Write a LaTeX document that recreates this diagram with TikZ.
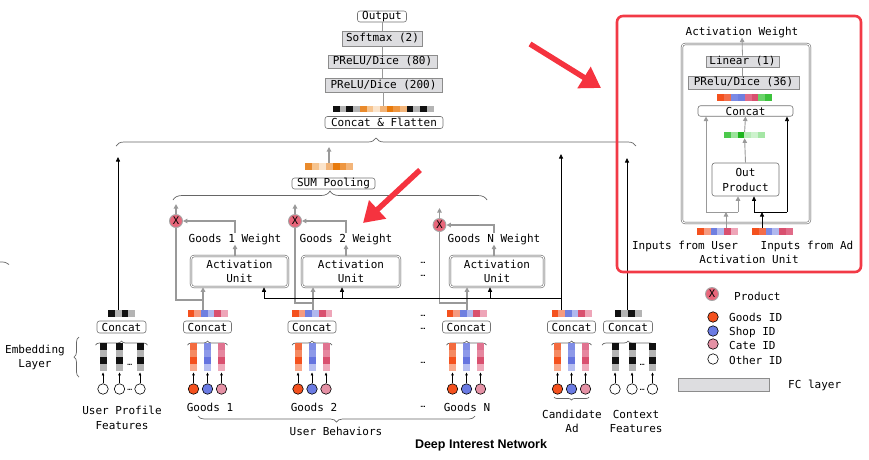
\documentclass[tikz,border=0pt]{standalone}
\usepackage{fontspec}
\setmainfont{DejaVu Sans Mono}
\newfontfamily\headfont{Liberation Sans}
\usetikzlibrary{arrows.meta,decorations.pathreplacing}
\definecolor{c1}{HTML}{F4511E}
\definecolor{c2}{HTML}{F59A80}
\definecolor{c3}{HTML}{6F7FE0}
\definecolor{c4}{HTML}{B0B8EE}
\definecolor{c5}{HTML}{D9506F}
\definecolor{c6}{HTML}{EEA5B8}
\definecolor{c7}{HTML}{F26D4A}
\definecolor{c8}{HTML}{7B8AE5}
\definecolor{c9}{HTML}{E06B88}
\definecolor{cK}{HTML}{111111}
\definecolor{cG}{HTML}{B4B4B4}
\definecolor{oA}{HTML}{E98A2C}
\definecolor{oB}{HTML}{F6C48F}
\definecolor{oC}{HTML}{FBE4CB}
\definecolor{oD}{HTML}{F2B478}
\definecolor{oE}{HTML}{E87A0C}
\definecolor{oF}{HTML}{EE9640}
\definecolor{oG}{HTML}{F3B57A}
\definecolor{gA}{HTML}{4CC94C}
\definecolor{gB}{HTML}{9BE39B}
\definecolor{gC}{HTML}{1DB41D}
\definecolor{gD}{HTML}{B6ECB6}
\definecolor{gE}{HTML}{CDF2CD}
\definecolor{gF}{HTML}{A5E6A5}
\definecolor{gG}{HTML}{6AD36A}
\definecolor{gH}{HTML}{3CC23C}
\definecolor{vOa}{HTML}{F36B3F}
\definecolor{vOb}{HTML}{F58A62}
\definecolor{vOc}{HTML}{F4511E}
\definecolor{vOd}{HTML}{F9A98C}
\definecolor{vBa}{HTML}{7F8DE6}
\definecolor{vBb}{HTML}{8D99E9}
\definecolor{vBc}{HTML}{6574DF}
\definecolor{vBd}{HTML}{B6BEF1}
\definecolor{vPa}{HTML}{E07390}
\definecolor{vPb}{HTML}{E6879F}
\definecolor{vPc}{HTML}{D9506F}
\definecolor{vPd}{HTML}{EFAABB}
\definecolor{idO}{HTML}{F4511E}
\definecolor{idB}{HTML}{6B7BE3}
\definecolor{idP}{HTML}{E591A5}
\definecolor{xred}{HTML}{E8667A}
\definecolor{redbox}{HTML}{F23A46}
\definecolor{redarr}{HTML}{F5333F}
\definecolor{fcfill}{HTML}{DDDDE0}

% colour bar: name, x left, y top, cell width, height, count, colours
\newcommand\cbar[7]{%
  \node[inner sep=0, minimum width={#6*#4}, minimum height=#5, anchor=north west] (#1) at ({#2},{#3}) {};
  \foreach \col [count=\i] in {#7} \fill[\col] ({#2+(\i-1)*#4},{#3}) rectangle ++(#4,#5);
}
% vertical embedding column: x centre, colours
\newcommand\vcol[2]{%
  \foreach \col [count=\i] in {#2} \fill[\col] ({#1-3.5},{343+(\i-1)*7}) rectangle ++(7,7);
}
% goods-like group: name, centre x
\newcommand\goodsgrp[2]{%
  \cbar{#1bar}{#2-20}{310}{6.7}{7}{6}{c1,c2,c3,c4,c5,c6}
  \node[rb, minimum width=48, minimum height=12] (#1cc) at ({#2},327) {Concat};
  \draw[brc=4] ({#2-20},345) -- ({#2+20},345);
  \vcol{#2-14}{vOa,vOb,vOc,vOd}
  \vcol{#2}{vBa,vBb,vBc,vBd}
  \vcol{#2+14}{vPa,vPb,vPc,vPd}
  \node[idc, fill=idO] (#1a) at ({#2-14},389) {};
  \node[idc, fill=idB] (#1b) at ({#2},389) {};
  \node[idc, fill=idP] (#1c) at ({#2+14},389) {};
  \draw[sarr] (#1a.north) -- ++(0,-11);
  \draw[sarr] (#1b.north) -- ++(0,-11);
  \draw[sarr] (#1c.north) -- ++(0,-11);
}
% other-id group: name, centre x, column xs a b c
\newcommand\othergrp[5]{%
  \cbar{#1bar}{#2-13.5}{310}{6.75}{7}{4}{cK,cG,cK,cG}
  \node[rb, minimum width=49, minimum height=12] (#1cc) at ({#2},327) {Concat};
  \draw[brc=4] ({#2-26},345) -- ({#2+26},345);
  \vcol{#3}{cK,cG,cK,cG}
  \vcol{#4}{cK,cG,cK,cG}
  \vcol{#5}{cK,cG,cK,cG}
  \node[idc, fill=white] (#1a) at ({#3},389) {};
  \node[idc, fill=white] (#1b) at ({#4},389) {};
  \node[idc, fill=white] (#1c) at ({#5},389) {};
  \draw[sarr] (#1a.north) -- ++(0,-11);
  \draw[sarr] (#1b.north) -- ++(0,-11);
  \draw[sarr] (#1c.north) -- ++(0,-11);
  \node[font=\fontsize{8}{8}\selectfont] at ({(#4+#5)/2},365) {…};
  \node[font=\fontsize{8}{8}\selectfont] at ({(#4+#5)/2},390) {…};
}

\begin{document}
\begin{tikzpicture}[x=1pt,y=-1pt,
  every node/.style={font=\fontsize{11}{14.5}\selectfont, inner sep=0},
  rb/.style={draw=black!55, fill=white, rounded corners=2.5pt, line width=0.6pt},
  fc/.style={draw=black!45, fill=fcfill, line width=0.6pt},
  au/.style={draw=black!70, double=white, double distance=1.1pt, line width=0.5pt, rounded corners=3pt, align=center},
  xn/.style={circle, fill=xred, draw=black!35, line width=0.9pt, minimum size=13, font=\fontsize{10.5}{10.5}\selectfont},
  idc/.style={circle, draw=black, line width=0.6pt, minimum size=10.5},
  tl/.style={draw=black!40, line width=0.6pt},
  gln/.style={draw=black!40, line width=1.2pt},
  garr/.style={gln, -{Triangle[length=4.5pt,width=4.5pt]}},
  bln/.style={draw=black, line width=0.8pt},
  barr/.style={bln, -{Triangle[length=4.5pt,width=4pt]}},
  sarr/.style={draw=black, line width=0.5pt, -{Triangle[length=3pt,width=2.5pt]}},
  brc/.style={decorate, decoration={brace, amplitude=#1}, draw=black!60, line width=0.7pt},
  redarrow/.style={draw=redarr, line width=5.5pt, -{Triangle[length=20pt,width=24pt]}},
  wt/.style={font=\fontsize{11}{12}\selectfont},
  dots/.style={font=\fontsize{8}{8}\selectfont}
]
\useasboundingbox (0,0) rectangle (869,459);

% ---------- top stack ----------
\node[rb, minimum width=49, minimum height=11] (out) at (382,16.5) {Output};
\node[fc, minimum width=80, minimum height=15] (soft) at (382.5,38.5) {Softmax (2)};
\node[fc, minimum width=109, minimum height=13] (p80) at (382.5,61.5) {PReLU/Dice (80)};
\node[fc, minimum width=117, minimum height=14] (p200) at (383.5,85) {PReLU/Dice (200)};
\cbar{cfbar}{333}{106}{6.7}{6}{15}{cK,cG,cK,cG,oA,oB,oC,oD,oE,oF,oG,cK,cG,cK,cG}
\node[rb, minimum width=118, minimum height=12] (cf) at (384,122.5) {Concat \& Flatten};
\draw[tl] (out.south) -- (out.south |- soft.north);
\draw[tl] (soft.south) -- (soft.south |- p80.north);
\draw[tl] (p80.south) -- (p80.south |- p200.north);
\draw[tl] (p200.south) -- (p200.south |- cfbar.north);

\draw[brc=8] (116,146) -- (636,146);
\draw[black!60, line width=0.7pt] (0,262) .. controls (5,262) .. (9,264.5);

% ---------- SUM pooling ----------
\cbar{sbar}{305}{163}{6.9}{7}{7}{oA,oB,oC,oD,oE,oF,oG}
\coordinate (stop) at (329,147);
\draw[garr] (stop |- sbar.north) -- (stop);
\node[rb, minimum width=83, minimum height=11] (sum) at (333.5,183.5) {SUM Pooling};
\draw[brc=9] (173,200) -- (487,200);

% ---------- activation units ----------
\node[au, minimum width=97, minimum height=31] (au1) at (239.5,271.5) {Activation\\Unit};
\node[au, minimum width=98, minimum height=31] (au2) at (351,271.5) {Activation\\Unit};
\node[au, minimum width=94, minimum height=31] (auN) at (497,271.5) {Activation\\Unit};

\node[wt] (w1) at (235,239) {Goods 1 Weight};
\node[wt] (w2) at (346,239) {Goods 2 Weight};
\node[wt] (wN) at (494,239) {Goods N Weight};

\node[xn] (x1) at (176,221) {X};
\node[xn] (x2) at (295,221) {X};
\node[xn] (xN) at (439.5,225) {X};

\draw[garr] (w1.south |- au1.north) -- (w1.south);
\draw[garr] (w2.south |- au2.north) -- (w2.south);
\draw[garr] (wN.south |- auN.north) -- (wN.south);
\draw[garr] (w1.north) |- (x1.east);
\draw[garr] (w2.north) |- (x2.east);
\draw[garr] (wN.north) |- (xN.east);
\draw[garr] (x1.north) -- ++(0,-10);
\draw[garr] (x2.north) -- ++(0,-10);
\draw[garr] (xN.north) -- ++(0,-10);

% ---------- embedding groups ----------
\othergrp{usr}{121.5}{103}{119.5}{140}
\goodsgrp{ga}{207.5}
\goodsgrp{gb}{312}
\goodsgrp{gn}{466.5}
\goodsgrp{cand}{571.5}
\othergrp{ctx}{628}{615}{632}{652.5}

% gray connectors goods -> AU and X
\coordinate (j1) at (203,300);
\coordinate (j2) at (313,303);
\coordinate (jN) at (467,303);
\draw[garr] (j1 |- gabar.north) -- (j1 |- au1.south);
\draw[gln] (j1) -| (x1.south);
\draw[garr] (j2 |- gbbar.north) -- (j2 |- au2.south);
\draw[gln] (j2) -| (x2.south);
\draw[garr] (jN |- gnbar.north) -- (jN |- auN.south);
\draw[gln] (jN) -| (xN.south);

% black connectors from candidate ad
\coordinate (cj) at (561,298);
\coordinate (b1) at (264,298);
\coordinate (b2) at (342,298);
\coordinate (bN) at (490,298);
\coordinate (ctop) at (561,154);
\coordinate (utop) at (118,157);
\coordinate (xtop) at (627,158);
\draw[bln] (cj) -- (b1);
\draw[barr] (b1) -- (b1 |- au1.south);
\draw[barr] (b2) -- (b2 |- au2.south);
\draw[barr] (bN) -- (bN |- auN.south);
\draw[barr] (ctop |- candbar.north) -- (ctop);
\draw[barr] (utop |- usrbar.north) -- (utop);
\draw[barr] (xtop |- ctxbar.north) -- (xtop);

% dots
\node[dots] at (423,263) {…};
\node[dots] at (423,276) {…};
\node[dots] at (423,316) {…};
\node[dots] at (423,329) {…};
\node[dots] at (423,363) {…};
\node[dots] at (423,407) {…};

% labels
\node[align=center] (emb) at (35,357.5) {Embedding\\Layer};
\draw[brc=5] (79,377) -- (79,337);
\node[align=center, font=\fontsize{11}{15}\selectfont] at (122,417.5) {User Profile\\Features};
\node at (210,407) {Goods 1};
\node at (314,407) {Goods 2};
\node at (467,407) {Goods N};
\draw[brc=6] (475,416) -- (198,416);
\node at (336,431) {User Behaviors};
\draw[brc=3] (589,397) -- (554,397);
\node[align=center, font=\fontsize{11}{14}\selectfont] at (572,421) {Candidate\\Ad};
\node[align=center, font=\fontsize{11}{14}\selectfont] at (636,421) {Context\\Features};
\node[font=\headfont\bfseries\fontsize{12.5}{14}\selectfont] at (481,445) {Deep Interest Network};

% ---------- activation unit detail (red box) ----------
\draw[redbox, line width=2.6pt, rounded corners=6pt] (617,16) rectangle (861,272);
\node (aw) at (742,32) {Activation Weight};
\node[au, minimum width=128, minimum height=179] (aub) at (746,133.5) {};
\node[fc, minimum width=73, minimum height=11] (lin) at (742.5,61.5) {Linear (1)};
\node[fc, minimum width=111, minimum height=13] (pr) at (743.5,82.5) {PRelu/Dice (36)};
\draw[garr, line width=0.8pt] (lin.north) -- (aw.south);
\draw[tl] (lin.south) -- (lin.south |- pr.north);
\cbar{abar}{717}{94}{6.9}{7}{8}{c1,c7,c8,c3,c9,c5,gG,gH}
\node[rb, minimum width=95, minimum height=10.5] (acc) at (745.5,111) {Concat};
\cbar{gbar}{724}{132}{6.8}{6}{6}{gA,gB,gC,gD,gE,gF}
\node[rb, minimum width=67, minimum height=33, align=center, font=\fontsize{11}{15}\selectfont] (op) at (745.5,179.5) {Out\\Product};
\draw[garr, line width=0.9pt] (gbar.north) -- (acc.south);
\draw[garr, line width=0.9pt] (op.north) -- (gbar.south);

\cbar{ubar}{697}{228}{6.8}{7}{6}{c1,c2,c3,c4,c5,c6}
\cbar{adbar}{752}{228}{6.8}{7}{6}{c1,c7,c8,c4,c5,c9}
\coordinate (uj) at (726,212);
\coordinate (ul) at (706,212);
\coordinate (ur) at (738,212);
\coordinate (aj) at (762,212);
\coordinate (al) at (754,212);
\coordinate (ar) at (787,212);
\draw[garr, line width=0.9pt] (uj |- ubar.north) -- (uj);
\draw[gln, line width=0.9pt] (ul) -- (ur);
\draw[garr, line width=0.9pt] (ul) -- (ul |- acc.south);
\draw[garr, line width=0.9pt] (ur) -- (ur |- op.south);
\draw[barr] (aj |- adbar.north) -- (aj);
\draw[bln] (al) -- (ar);
\draw[barr] (al) -- (al |- op.south);
\draw[barr] (ar) -- (ar |- acc.south);
\node at (685,246) {Inputs from User};
\node at (807,246) {Inputs from Ad};
\node at (749,259) {Activation Unit};

% ---------- legend ----------
\node[xn] (lx) at (712,294) {X};
\node[anchor=west] at (734,296) {Product};
\node[idc, fill=idO] (l1) at (713,317) {};
\node[anchor=west] at (729,317) {Goods ID};
\node[idc, fill=idB] (l2) at (713,331) {};
\node[anchor=west] at (729,332) {Shop ID};
\node[idc, fill=idP] (l3) at (713,344) {};
\node[anchor=west] at (729,345.5) {Cate ID};
\node[idc, fill=white] (l4) at (713,359) {};
\node[anchor=west] at (729,360) {Other ID};
\node[fc, minimum width=91, minimum height=13] (lfc) at (723.5,384.5) {};
\node[anchor=west] at (788,385) {FC layer};

% ---------- red annotation arrows ----------
\coordinate (ra1s) at (530,44);
\coordinate (ra1e) at (601,88);
\coordinate (ra2s) at (420,170);
\coordinate (ra2e) at (363,223);
\draw[redarrow] (ra1s) -- (ra1e);
\draw[redarrow] (ra2s) -- (ra2e);
\end{tikzpicture}
\end{document}
